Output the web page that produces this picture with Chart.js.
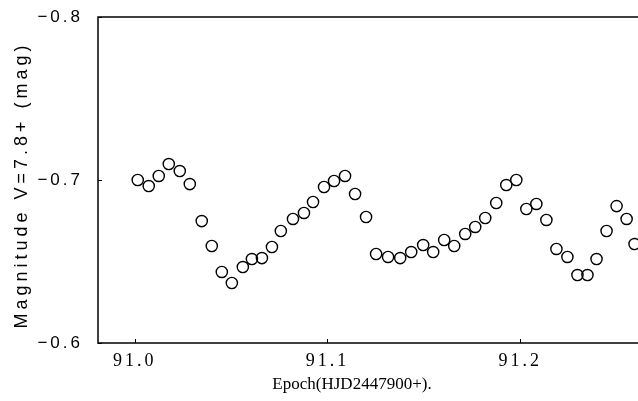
<!DOCTYPE html>
<html>
<head>
<meta charset="utf-8">
<script src="https://cdn.jsdelivr.net/npm/chart.js@4"></script>
<style>
  html, body { margin: 0; padding: 0; background: #fff; }
  #wrap { width: 638px; height: 401px; }
</style>
</head>
<body>
<div id="wrap"><canvas id="myChart" width="638" height="401"></canvas></div>
<script>
// epoch (HJD 2447900+) and V magnitude offsets
const epoch = [91.0016, 91.0073, 91.0125, 91.0177, 91.0234, 91.0286, 91.0348, 91.0400, 91.0452, 91.0504,
               91.0561, 91.0608, 91.0660, 91.0712, 91.0758, 91.0821, 91.0878, 91.0925, 91.0982, 91.1034,
               91.1091, 91.1143, 91.1200, 91.1252, 91.1314, 91.1377, 91.1434, 91.1496, 91.1548, 91.1605,
               91.1657, 91.1714, 91.1766, 91.1818, 91.1875, 91.1927, 91.1979, 91.2031, 91.2083, 91.2135,
               91.2187, 91.2244, 91.2296, 91.2348, 91.2395, 91.2447, 91.2499, 91.2551, 91.2592];
const mag = [-0.7000, -0.6963, -0.7025, -0.7098, -0.7055, -0.6975, -0.6748, -0.6595, -0.6436, -0.6368,
             -0.6466, -0.6515, -0.6521, -0.6589, -0.6687, -0.6761, -0.6798, -0.6865, -0.6957, -0.6994,
             -0.7025, -0.6914, -0.6773, -0.6546, -0.6528, -0.6521, -0.6558, -0.6601, -0.6558, -0.6632,
             -0.6595, -0.6669, -0.6712, -0.6767, -0.6859, -0.6969, -0.7000, -0.6822, -0.6853, -0.6755,
             -0.6577, -0.6528, -0.6417, -0.6417, -0.6515, -0.6687, -0.6840, -0.6761, -0.6607];
const xTicks = [91.0, 91.1, 91.2];
const yTicks = [-0.8, -0.7, -0.6];
const xLabels = ['91.0', '91.1', '91.2'];
const yLabels = ['\u22120.8', '\u22120.7', '\u22120.6'];

const pts = epoch.map((e, i) => ({x: e, y: mag[i]}));

// frame, inward ticks and axis titles
const framePlugin = {
  id: 'frame',
  beforeDraw(chart) {
    chart.ctx.letterSpacing = '3px';
  },
  beforeDatasetsDraw(chart) {
    chart.ctx.letterSpacing = '0px';
  },
  afterDraw(chart) {
    const ctx = chart.ctx;
    const a = chart.chartArea;
    const xs = chart.scales.x, ys = chart.scales.y;
    ctx.save();
    ctx.strokeStyle = '#000';
    ctx.lineWidth = 1.5;
    ctx.beginPath();
    ctx.moveTo(a.right, a.top);
    ctx.lineTo(a.left, a.top);
    ctx.lineTo(a.left, a.bottom);
    ctx.lineTo(a.right, a.bottom);
    ctx.stroke();
    ctx.lineWidth = 1;
    ctx.beginPath();
    xTicks.forEach(v => {
      const px = Math.round(xs.getPixelForValue(v)) + 0.5;
      ctx.moveTo(px, a.bottom);
      ctx.lineTo(px, a.bottom - 4);
    });
    yTicks.forEach(v => {
      const py = Math.round(ys.getPixelForValue(v)) + 0.5;
      ctx.moveTo(a.left, py);
      ctx.lineTo(a.left + 4, py);
    });
    ctx.stroke();

    ctx.fillStyle = '#000';
    ctx.textBaseline = 'middle';
    ctx.textAlign = 'center';
    ctx.letterSpacing = '0px';
    ctx.font = '17px "Liberation Serif"';
    ctx.fillText('Epoch(HJD2447900+).', 352, 385);

    ctx.translate(22, 185);
    ctx.rotate(-Math.PI / 2);
    ctx.letterSpacing = '4px';
    ctx.font = '18px "Liberation Sans"';
    ctx.fillText('Magnitude V=7.8+ (mag)', 0, 0);
    ctx.restore();
  }
};

const ctx = document.getElementById('myChart').getContext('2d');
const myChart = new Chart(ctx, {
  type: 'scatter',
  data: {
    datasets: [{
      label: 'V',
      data: pts,
      pointStyle: 'circle',
      pointRadius: 5.6,
      pointHoverRadius: 5.6,
      pointBorderWidth: 1.4,
      pointBorderColor: '#000',
      pointBackgroundColor: 'rgba(255,255,255,0)'
    }]
  },
  options: {
    responsive: false,
    animation: false,
    events: [],
    layout: { autoPadding: false, padding: { top: 17, right: 0, left: 0, bottom: 0 } },
    plugins: { legend: { display: false }, tooltip: { enabled: false } },
    scales: {
      x: {
        type: 'linear',
        min: 90.981,
        max: 91.261,
        grid: { display: false },
        border: { display: false },
        afterBuildTicks: s => { s.ticks = xTicks.map(v => ({value: v})); },
        afterFit: s => { s.height = 58; s.paddingLeft = 0; s.paddingRight = 0; },
        ticks: {
          color: '#000',
          padding: -1,
          maxRotation: 0,
          font: { family: 'Liberation Serif', size: 18 },
          callback: (v) => xLabels[xTicks.indexOf(v)] ?? ''
        }
      },
      y: {
        type: 'linear',
        reverse: true,
        min: -0.8,
        max: -0.6,
        grid: { display: false },
        border: { display: false },
        afterBuildTicks: s => { s.ticks = yTicks.map(v => ({value: v})); },
        afterFit: s => { s.width = 98; s.paddingTop = 0; s.paddingBottom = 0; },
        ticks: {
          color: '#000',
          padding: 7,
          font: { family: 'Liberation Sans', size: 17 },
          callback: (v) => yLabels[yTicks.findIndex(t => Math.abs(t - v) < 1e-9)] ?? ''
        }
      }
    }
  },
  plugins: [framePlugin]
});
</script>
</body>
</html>
